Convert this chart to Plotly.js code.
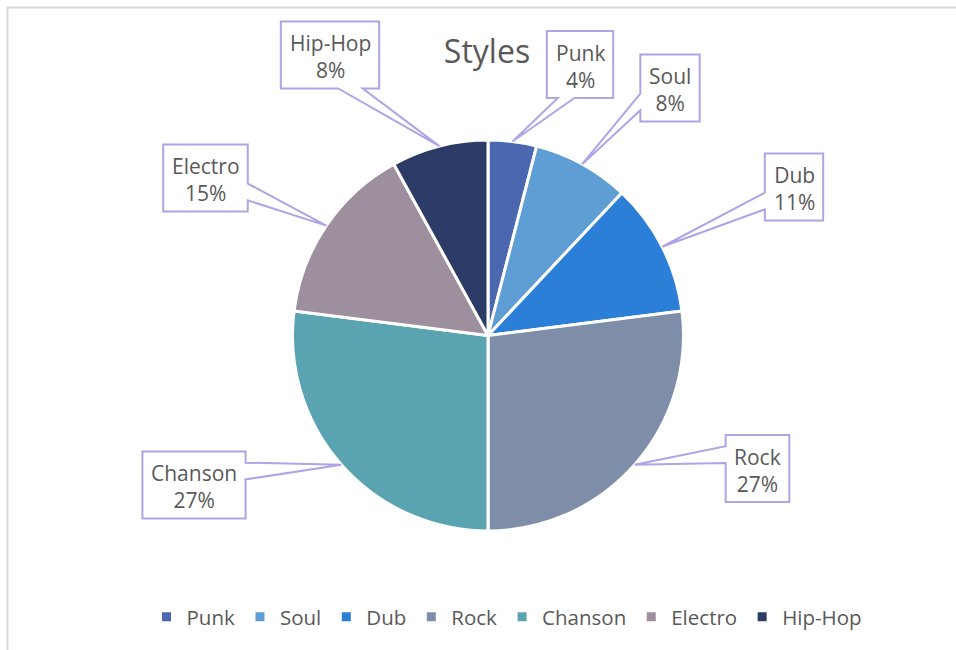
<!DOCTYPE html>
<html>
<head>
<meta charset="utf-8">
<script src="https://cdn.plot.ly/plotly-3.0.1.min.js"></script>
<style>html,body{margin:0;padding:0;background:#fff;}#chart{width:956px;height:650px;}</style>
</head>
<body>
<div id="chart"></div>
<script>
// ---- data ----
const categories = ['Punk', 'Soul', 'Dub', 'Rock', 'Chanson', 'Electro', 'Hip-Hop'];
const values = [4, 8, 11, 27, 27, 15, 8];
const chartTitle = 'Styles';

// ---- style ----
const sliceColors = ['#4a67b0', '#5f9ed4', '#2b7fd6', '#7f8ea8', '#5aa3b0', '#9d8f9e', '#2c3c66'];
const W = 956, H = 650;
const pieCx = 488, pieCy = 335.5, pieR = 195.5;
const textColor = '#595959';
const calloutColor = '#aea4e6';
const labelFont = 'Open Sans';
const labelSize = 21;
const legendSize = 20.5;
// callout box centre placement, pixel offsets from the pie centre (layout only)
const calloutOffsets = [[92, -271], [182, -247.5], [306, -148.5], [269.5, 133], [-294, 149.5], [-282.5, -157.5], [-158, -280.5]];

const px = x => x / W;
const py = y => 1 - y / H;

const total = values.reduce((a, b) => a + b, 0);
const ctx = document.createElement('canvas').getContext('2d');
ctx.font = labelSize + 'px "' + labelFont + '"';

const shapes = [{
  type: 'rect', xref: 'paper', yref: 'paper',
  x0: px(7.5), x1: 1.1, y0: -0.1, y1: py(7.5),
  line: {color: '#d9d9d9', width: 2}, fillcolor: 'rgba(0,0,0,0)', layer: 'below'
}];
const annotations = [];

let cum = 0;
categories.forEach((cat, i) => {
  const v = values[i];
  const theta = 2 * Math.PI * (cum + v / 2) / total;
  cum += v;
  const tipX = pieCx + pieR * Math.sin(theta);
  const tipY = pieCy - pieR * Math.cos(theta);
  const pct = Math.round(v / total * 100) + '%';
  const tw = Math.max(ctx.measureText(cat).width, ctx.measureText(pct).width);
  const w = tw + 17, h = 67;
  const hc = pieCx + calloutOffsets[i][0], vc = pieCy + calloutOffsets[i][1];
  const l = hc - w / 2, t = vc - h / 2, r = hc + w / 2, b = vc + h / 2;
  const dxPos = tipX - hc, dyPos = tipY - vc;
  const dq = dxPos * h / w;
  const dz = Math.abs(dyPos) - Math.abs(dq);
  const bx1 = l + w * (dxPos > 0 ? 7 : 2) / 12, bx2 = l + w * (dxPos > 0 ? 10 : 5) / 12;
  const by1 = t + h * (dyPos > 0 ? 7 : 2) / 12, by2 = t + h * (dyPos > 0 ? 10 : 5) / 12;
  const side = dz > 0 ? (dyPos < 0 ? 'top' : 'bottom') : (dxPos < 0 ? 'left' : 'right');
  const pts = [[l, t]];
  if (side === 'top') pts.push([bx1, t], [tipX, tipY], [bx2, t]);
  pts.push([r, t]);
  if (side === 'right') pts.push([r, by1], [tipX, tipY], [r, by2]);
  pts.push([r, b]);
  if (side === 'bottom') pts.push([bx2, b], [tipX, tipY], [bx1, b]);
  pts.push([l, b]);
  if (side === 'left') pts.push([l, by2], [tipX, tipY], [l, by1]);
  const path = pts.map((p, k) => (k ? 'L' : 'M') + px(p[0]).toFixed(5) + ',' + py(p[1]).toFixed(5)).join(' ') + ' Z';
  shapes.push({
    type: 'path', xref: 'paper', yref: 'paper', path: path,
    line: {color: calloutColor, width: 2}, fillcolor: '#ffffff', layer: 'above'
  });
  annotations.push({
    xref: 'paper', yref: 'paper', x: px(hc), y: py(vc + 1.5),
    xanchor: 'center', yanchor: 'middle', showarrow: false, align: 'center',
    text: cat + '<br>' + pct,
    font: {family: labelFont, size: labelSize, color: textColor}
  });
});

const trace = {
  type: 'pie',
  labels: categories,
  values: values,
  sort: false,
  direction: 'clockwise',
  rotation: 0,
  textinfo: 'none',
  hoverinfo: 'label+percent',
  marker: {colors: sliceColors, line: {color: '#ffffff', width: 3}},
  domain: {x: [px(pieCx - pieR), px(pieCx + pieR)], y: [py(pieCy + pieR), py(pieCy - pieR)]}
};

const layout = {
  width: W, height: H,
  margin: {l: 0, r: 0, t: 0, b: 0},
  paper_bgcolor: '#ffffff',
  title: {text: chartTitle, x: px(487), xanchor: 'center', y: py(52), yanchor: 'middle',
          font: {family: labelFont, size: 32, color: textColor}},
  showlegend: true,
  legend: {orientation: 'h', x: px(507), xanchor: 'center', y: py(617), yanchor: 'middle',
           font: {family: labelFont, size: legendSize, color: textColor}, traceorder: 'normal'},
  shapes: shapes,
  annotations: annotations
};

Plotly.newPlot('chart', [trace], layout, {displayModeBar: false, staticPlot: true});
</script>
</body>
</html>
